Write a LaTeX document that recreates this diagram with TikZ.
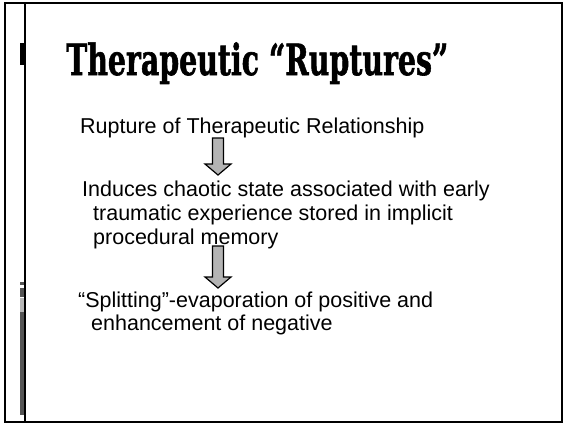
\documentclass[tikz,border=0pt]{standalone}
\usepackage{fontspec}
\setmainfont{Liberation Sans}
\newfontfamily\titlefont{DejaVu Serif}[BoldFeatures={FakeBold=1.5}]
\usetikzlibrary{calc}
\definecolor{arrowgray}{HTML}{B4B4B4}
\definecolor{bardark}{HTML}{555555}
\definecolor{barlight}{HTML}{B8B8B8}
\tikzset{
  bodytext/.style={anchor=base west, inner sep=0pt,
    font=\fontsize{21.5pt}{24pt}\selectfont},
  titletext/.style={anchor=base west, inner sep=0pt},
  blockarrow/.style={draw=black, line width=1.2pt, fill=arrowgray, line join=miter,
    to path={let \p1=(\tikztostart), \p2=(\tikztotarget) in
      (\x1-5.5pt,\y1) -- (\x1+5.5pt,\y1) -- (\x1+5.5pt,\y2+11pt) -- (\x1+13pt,\y2+11pt)
      -- (\x1,\y2) -- (\x1-13pt,\y2+11pt) -- (\x1-5.5pt,\y2+11pt) -- cycle}},
}
\begin{document}
\begin{tikzpicture}[x=1pt,y=-1pt]
\useasboundingbox (0,0) rectangle (565,424);
\fill[white] (0,0) rectangle (565,424);
% frame
\draw[line width=2pt] (5,3) rectangle (562,422);
\draw[line width=2pt] (25,3) -- (25,422);
\fill[black] (20,43) rectangle (26,65);
% left bar
\fill[bardark] (20,282) rectangle (24,285);
\fill[bardark] (20,288) rectangle (24,297);
\fill[barlight] (20,298) rectangle (24,312);
\fill[bardark] (20,312) rectangle (24,415);
% title
\node[titletext] (title) at (66,75) {\scalebox{0.66}[1]{\titlefont\bfseries\fontsize{43pt}{46pt}\selectfont Therapeutic “Ruptures”}};
% body
\node[bodytext] (p1) at (80,133) {Rupture of Therapeutic Relationship};
\node[bodytext] (p2a) at (82,196) {Induces chaotic state associated with early};
\node[bodytext] (p2b) at (93,220) {traumatic experience stored in implicit};
\node[bodytext] (p2c) at (93,244) {procedural memory};
\node[bodytext] (p3a) at (78,307) {“Splitting”-evaporation of positive and};
\node[bodytext] (p3b) at (91,330) {enhancement of negative};
% arrows
\coordinate (a1s) at (218,138) ;
\coordinate (a1e) at (218,175);
\coordinate (a2s) at (218,246);
\coordinate (a2e) at (218,288);
\draw[blockarrow] (a1s) to (a1e);
\draw[blockarrow] (a2s) to (a2e);
\end{tikzpicture}
\end{document}
